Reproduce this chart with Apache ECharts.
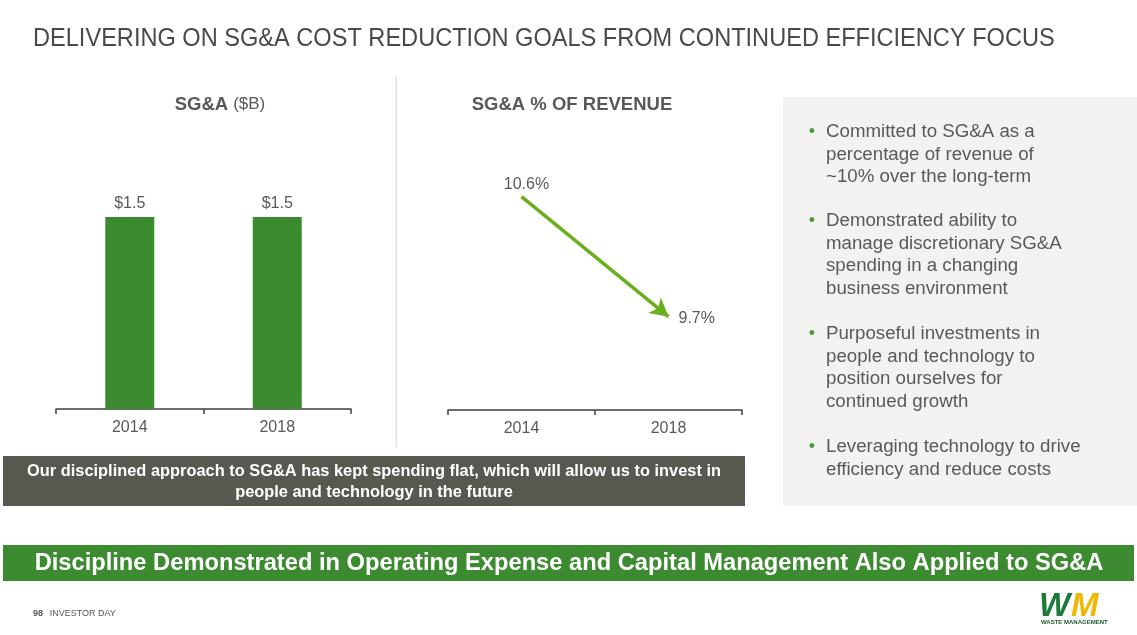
<!DOCTYPE html>
<html>
<head>
<meta charset="utf-8">
<script src="https://cdn.jsdelivr.net/npm/echarts@6/dist/echarts.min.js"></script>
<style>
html,body{margin:0;padding:0;background:#fff;}
#c{width:1137px;height:635px;}
</style>
</head>
<body>
<div id="c"></div>
<script>
// ---- data ----
const categories = ['2014', '2018'];
const sgaValues = [1.5, 1.5];          // $B
const pctValues = [10.6, 9.7];         // % of revenue
const sgaLabels = ['$1.5', '$1.5'];
const pctLabels = ['10.6%', '9.7%'];
const bullets = [
  ['Committed to SG&A as a', 'percentage of revenue of', '~10% over the long-term'],
  ['Demonstrated ability to', 'manage discretionary SG&A', 'spending in a changing', 'business environment'],
  ['Purposeful investments in', 'people and technology to', 'position ourselves for', 'continued growth'],
  ['Leveraging technology to drive', 'efficiency and reduce costs']
];
const pageTitle = 'DELIVERING ON SG&A COST REDUCTION GOALS FROM CONTINUED EFFICIENCY FOCUS';
const noteLines = ['Our disciplined approach to SG&A has kept spending flat, which will allow us to invest in', 'people and technology in the future'];
const bannerText = 'Discipline Demonstrated in Operating Expense and Capital Management Also Applied to SG&A';

const FONT = 'Liberation Sans, Arial, sans-serif';
const TXT = '#595959';
const BAR = '#3b8a2f';
const ARROW = '#6aaf1d';

const chart = echarts.init(document.getElementById('c'), null, {renderer: 'canvas'});

// bullets graphic
const bulletGraphics = [];
const paraCenters = [132, 221, 334, 447];
const LH = 22.6;
bullets.forEach((lines, i) => {
  bulletGraphics.push({
    type: 'text', x: 812, y: paraCenters[i],
    style: {text: '•', fill: '#4a9a3a', font: '18px ' + FONT, align: 'center', verticalAlign: 'middle'}
  });
  bulletGraphics.push({
    type: 'text', left: 826, top: paraCenters[i] - LH / 2,
    style: {text: lines.join('\n'), fill: TXT, font: '18.7px ' + FONT, lineHeight: LH}
  });
});

const axisCommon = {
  axisLine: {lineStyle: {color: '#404040', width: 1.5}},
  axisTick: {show: true, length: 5, lineStyle: {color: '#404040', width: 1.5}},
  axisLabel: {color: TXT, fontSize: 16, fontFamily: FONT, margin: 11}
};

const option = {
  animation: false,
  textStyle: {fontFamily: FONT},
  title: [
    {
      text: '{b|SG&A} {n|($B)}', left: 215, top: 90, textAlign: 'center',
      textStyle: {fontWeight: 'normal', rich: {
        b: {fontSize: 18.5, fontWeight: 'bold', color: TXT, fontFamily: FONT},
        n: {fontSize: 17, fontWeight: 'normal', color: TXT, fontFamily: FONT}
      }}
    },
    {
      text: 'SG&A % OF REVENUE', left: 567, top: 90, textAlign: 'center',
      textStyle: {fontSize: 18.5, fontWeight: 'bold', color: TXT, fontFamily: FONT}
    }
  ],
  grid: [
    {left: 56, width: 295, top: 153, height: 256},
    {left: 448, width: 294, top: 143.33, height: 266.67}
  ],
  xAxis: [
    Object.assign({type: 'category', gridIndex: 0, data: categories}, axisCommon),
    Object.assign({type: 'category', gridIndex: 1, data: categories}, axisCommon)
  ],
  yAxis: [
    {type: 'value', gridIndex: 0, min: 0, max: 2, show: false, splitLine: {show: false}},
    {type: 'value', gridIndex: 1, min: 9, max: 11, show: false, splitLine: {show: false}}
  ],
  series: [
    {
      type: 'bar', xAxisIndex: 0, yAxisIndex: 0, data: sgaValues,
      barWidth: 49,
      itemStyle: {color: BAR},
      label: {
        show: true, position: 'top', distance: 5, color: TXT, fontSize: 16, fontFamily: FONT,
        formatter: p => sgaLabels[p.dataIndex]
      }
    },
    {
      type: 'line', xAxisIndex: 1, yAxisIndex: 1,
      data: pctValues.map((v, i) => ({
        value: v,
        label: i === 0
          ? {position: 'top', distance: 3, offset: [5, 0]}
          : {position: 'right', distance: 9, offset: [0, 2]}
      })),
      symbol: 'circle', symbolSize: 2, showSymbol: true, showAllSymbol: true,
      itemStyle: {color: 'rgba(0,0,0,0)'},
      lineStyle: {width: 0, color: 'rgba(0,0,0,0)'},
      label: {
        show: true, color: TXT, fontSize: 16, fontFamily: FONT,
        formatter: p => pctLabels[p.dataIndex]
      },
      markLine: {
        silent: true, animation: false,
        symbol: ['none', 'arrow'], symbolSize: [15, 18],
        lineStyle: {color: ARROW, width: 3.5, type: 'solid'},
        label: {show: false},
        data: [[
          {coord: [categories[0], pctValues[0]]},
          {coord: [categories[1], pctValues[1]]}
        ]]
      }
    }
  ],
  graphic: [
    {
      type: 'text', left: 33, top: 27, scaleX: 0.943,
      style: {text: pageTitle, fill: '#4a4a4a', font: '25px ' + FONT}
    },
    {type: 'rect', shape: {x: 395.5, y: 76, width: 1.5, height: 371}, style: {fill: '#e3e3e0'}},
    {type: 'rect', shape: {x: 783, y: 97, width: 354, height: 409}, style: {fill: '#f2f2f0'}},
    ...bulletGraphics,
    {type: 'rect', shape: {x: 3, y: 456, width: 742, height: 50}, style: {fill: '#585850'}},
    {
      type: 'text', x: 374, y: 482,
      style: {text: noteLines.join('\n'), fill: '#ffffff', font: 'bold 16.4px ' + FONT, lineHeight: 21, align: 'center', verticalAlign: 'middle'}
    },
    {type: 'rect', shape: {x: 3, y: 545, width: 1131, height: 36}, style: {fill: '#3d8b30'}},
    {
      type: 'text', x: 569, y: 563,
      style: {text: bannerText, fill: '#ffffff', font: 'bold 23.7px ' + FONT, align: 'center', verticalAlign: 'middle'}
    },
    {
      type: 'text', left: 33, top: 608,
      style: {text: '{b|98}  {n|INVESTOR DAY}', rich: {
        b: {font: 'bold 9px ' + FONT, fill: '#555'},
        n: {font: '9px ' + FONT, fill: '#555'}
      }}
    },
    {
      type: 'text', left: 1039, top: 590,
      style: {text: 'W', fill: '#1c7a37', font: 'italic 900 33px ' + FONT}
    },
    {
      type: 'text', left: 1071, top: 590,
      style: {text: 'M', fill: '#f2b705', font: 'italic 900 33px ' + FONT}
    },
    {
      type: 'text', left: 1041, top: 619,
      style: {text: 'WASTE MANAGEMENT', fill: '#1c5a30', font: 'bold 6px ' + FONT}
    }
  ]
};
chart.setOption(option);
</script>
</body>
</html>
